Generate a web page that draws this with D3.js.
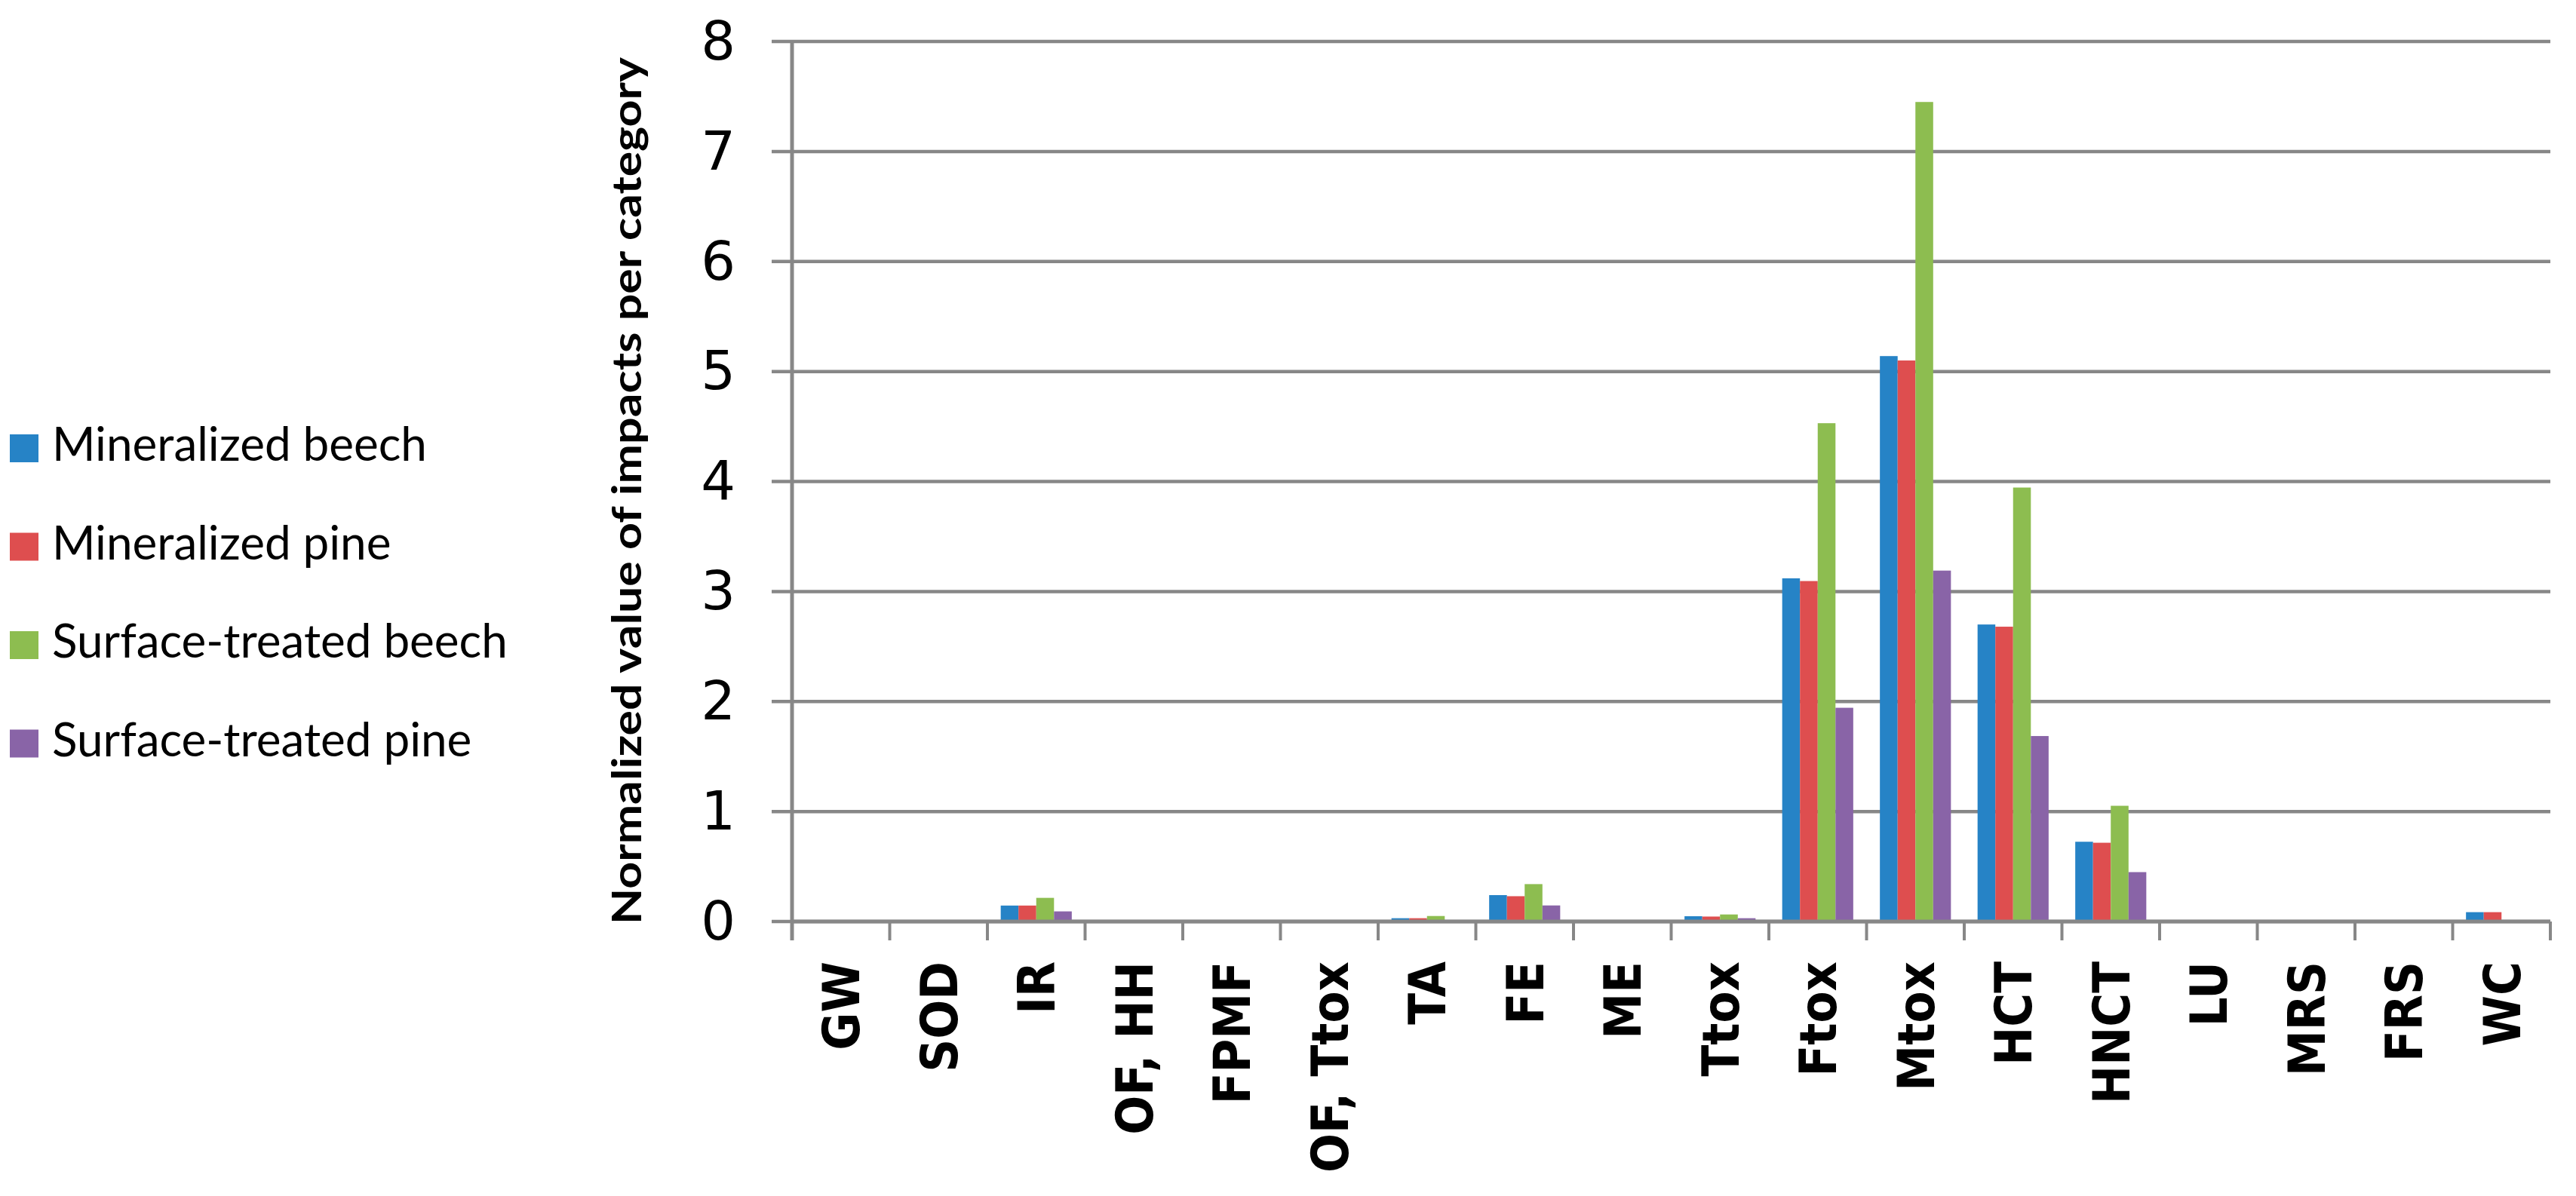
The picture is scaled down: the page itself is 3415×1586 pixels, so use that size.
<!DOCTYPE html>
<html>
<head>
<meta charset="utf-8">
<script src="https://cdn.jsdelivr.net/npm/d3@7"></script>
<style>
  html, body { margin: 0; padding: 0; background: #fff; }
  #chart { width: 3415px; height: 1586px; }
</style>
</head>
<body>
<div id="chart"></div>
<script>
// categories on the x axis
const categories = ['GW', 'SOD', 'IR', 'OF, HH', 'FPMF', 'OF, Ttox', 'TA', 'FE', 'ME',
  'Ttox', 'Ftox', 'Mtox', 'HCT', 'HNCT', 'LU', 'MRS', 'FRS', 'WC']

const seriesNames = ['Mineralized beech', 'Mineralized pine', 'Surface-treated beech', 'Surface-treated pine']

// values, one per category
const mineralizedBeech = [0, 0, 0.145, 0, 0, 0, 0.03, 0.24, 0, 0.048, 3.12, 5.14, 2.70, 0.725, 0, 0, 0, 0.085]
const mineralizedPine = [0, 0, 0.145, 0, 0, 0, 0.03, 0.23, 0, 0.045, 3.095, 5.10, 2.68, 0.716, 0, 0, 0, 0.085]
const surfaceBeech = [0, 0, 0.215, 0, 0.006, 0, 0.05, 0.34, 0, 0.064, 4.53, 7.45, 3.945, 1.052, 0, 0, 0.008, 0]
const surfacePine = [0, 0, 0.092, 0, 0, 0, 0.012, 0.146, 0, 0.03, 1.943, 3.19, 1.686, 0.449, 0, 0, 0, 0]

const yTicks = [0, 1, 2, 3, 4, 5, 6, 7, 8]
const yTitle = 'Normalized value of impacts per category'

const colors = ['#2683c6', '#de4e4f', '#8dbd50', '#8964a7']
const gridColor = '#878787'

const series = [mineralizedBeech, mineralizedPine, surfaceBeech, surfacePine]

// plot area
const plot = { left: 1050, right: 3381, top: 55, bottom: 1222 }

const svg = d3
  .select('#chart')
  .append('svg')
  .attr('width', 3415)
  .attr('height', 1586)

const x = d3.scaleBand().domain(categories).range([plot.left, plot.right]).padding(0)
const y = d3.scaleLinear().domain([0, 8]).range([plot.bottom, plot.top])

// excel style gap: 150% of a bar width, split on both sides
const gap = x.bandwidth() * 1.5 / 5.5
const xSub = d3.scaleBand().domain(d3.range(4)).range([gap / 2, x.bandwidth() - gap / 2])

// gridlines + left tick marks
svg.append('g')
  .selectAll('line')
  .data(yTicks)
  .join('line')
  .attr('x1', plot.left - 27)
  .attr('x2', plot.right)
  .attr('y1', d => y(d))
  .attr('y2', d => y(d))
  .attr('stroke', gridColor)
  .attr('stroke-width', 4.5)

// y tick labels
svg.append('g')
  .selectAll('text')
  .data(yTicks)
  .join('text')
  .attr('x', 975)
  .attr('y', d => y(d))
  .attr('dy', '0.33em')
  .attr('text-anchor', 'end')
  .attr('font-family', "'DejaVu Sans', Verdana, sans-serif")
  .attr('font-size', 72)
  .text(d => d)

// bars
const groups = svg.append('g')
  .selectAll('g')
  .data(series)
  .join('g')
  .attr('fill', (d, i) => colors[i])

groups.each(function (values, si) {
  d3.select(this)
    .selectAll('rect')
    .data(values.map((v, ci) => ({ cat: categories[ci], value: v })))
    .join('rect')
    .attr('x', d => x(d.cat) + xSub(si))
    .attr('width', xSub.bandwidth())
    .attr('y', d => y(d.value))
    .attr('height', d => y(0) - y(d.value))
})

// x axis line and ticks at category borders
const tickPositions = categories.map(c => x(c)).concat([plot.right])
svg.append('g')
  .selectAll('line')
  .data(tickPositions)
  .join('line')
  .attr('x1', d => d)
  .attr('x2', d => d)
  .attr('y1', plot.bottom)
  .attr('y2', plot.bottom + 25)
  .attr('stroke', gridColor)
  .attr('stroke-width', 4)

svg.append('line')
  .attr('x1', plot.left)
  .attr('x2', plot.right)
  .attr('y1', plot.bottom)
  .attr('y2', plot.bottom)
  .attr('stroke', gridColor)
  .attr('stroke-width', 5)

// y axis line
svg.append('line')
  .attr('x1', plot.left)
  .attr('x2', plot.left)
  .attr('y1', plot.top - 2)
  .attr('y2', plot.bottom + 25)
  .attr('stroke', gridColor)
  .attr('stroke-width', 5)

// category labels, rotated
svg.append('g')
  .selectAll('text')
  .data(categories)
  .join('text')
  .attr('transform', d => `translate(${x(d) + x.bandwidth() / 2},1275) rotate(-90)`)
  .attr('dy', '0.36em')
  .attr('text-anchor', 'end')
  .attr('font-family', "'DejaVu Sans Condensed', 'DejaVu Sans', sans-serif")
  .attr('font-stretch', 'condensed')
  .attr('font-weight', 'bold')
  .attr('font-size', 68)
  .text(d => d)

// y axis title
svg.append('text')
  .attr('transform', 'translate(850,651) rotate(-90)')
  .attr('text-anchor', 'middle')
  .attr('font-family', "Lato, 'Open Sans', sans-serif")
  .attr('font-weight', 'bold')
  .attr('font-size', 53)
  .attr('textLength', 1150)
  .attr('lengthAdjust', 'spacingAndGlyphs')
  .text(yTitle)

// legend
const legend = svg.append('g')
  .selectAll('g')
  .data(seriesNames)
  .join('g')
  .attr('transform', (d, i) => `translate(0,${611 + i * 130.5})`)

legend.append('rect')
  .attr('x', 13)
  .attr('y', -35)
  .attr('width', 38)
  .attr('height', 37)
  .attr('fill', (d, i) => colors[i])

legend.append('text')
  .attr('x', 69)
  .attr('y', 0)
  .attr('font-family', "Lato, 'Open Sans', sans-serif")
  .attr('font-size', 62)
  .text(d => d)
</script>
</body>
</html>
